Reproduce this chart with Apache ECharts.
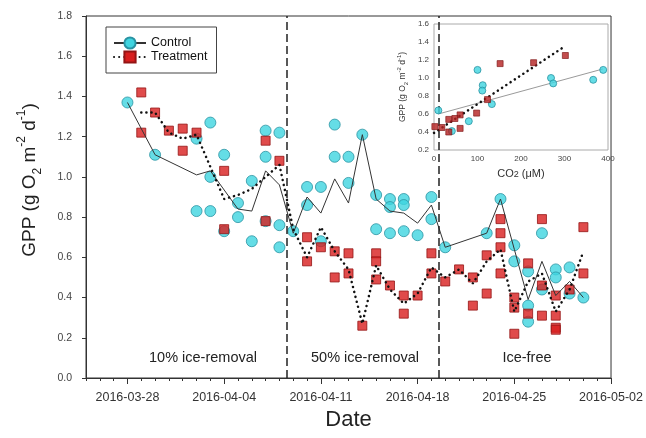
<!DOCTYPE html>
<html><head><meta charset="utf-8">
<script src="https://cdn.jsdelivr.net/npm/echarts@6/dist/echarts.min.js"></script>
<style>html,body{margin:0;padding:0;background:#fff}#c{width:646px;height:438px}</style>
</head><body><div id="c"></div>
<script>
// ---------- data ----------
const originDate = '2016-03-25';
const endDate = '2016-05-02';
const xTickDates = ['2016-03-28','2016-04-04','2016-04-11','2016-04-18','2016-04-25','2016-05-02'];
const phaseBoundaries = ['2016-04-08T12:00Z','2016-04-19T12:00Z'];
const phaseLabels = ['10% ice-removal','50% ice-removal','Ice-free'];
const yRange = [0, 1.8, 0.2];

const controlPoints = [
 ['2016-03-28',1.37],['2016-03-30',1.11],['2016-04-02',1.19],['2016-04-02',0.83],
 ['2016-04-03',1.27],['2016-04-03',1.00],['2016-04-03',0.83],['2016-04-04',1.11],['2016-04-04',0.73],
 ['2016-04-05',0.87],['2016-04-05',0.80],['2016-04-06',0.98],['2016-04-06',0.68],
 ['2016-04-07',1.23],['2016-04-07',1.10],['2016-04-07',0.78],['2016-04-08',1.22],['2016-04-08',0.76],['2016-04-08',0.65],
 ['2016-04-09',0.73],['2016-04-10',0.95],['2016-04-10',0.86],['2016-04-11',0.95],['2016-04-11',0.68],
 ['2016-04-12',1.26],['2016-04-12',1.10],['2016-04-13',1.10],['2016-04-13',0.97],['2016-04-14',1.21],
 ['2016-04-15',0.91],['2016-04-15',0.74],['2016-04-16',0.89],['2016-04-16',0.85],['2016-04-16',0.72],
 ['2016-04-17',0.89],['2016-04-17',0.86],['2016-04-17',0.73],['2016-04-18',0.71],['2016-04-19',0.90],['2016-04-19',0.79],
 ['2016-04-20',0.65],['2016-04-23',0.72],['2016-04-24',0.89],['2016-04-25',0.66],['2016-04-25',0.58],
 ['2016-04-26',0.53],['2016-04-26',0.36],['2016-04-26',0.28],['2016-04-27',0.72],['2016-04-27',0.44],
 ['2016-04-28',0.54],['2016-04-28',0.50],['2016-04-29',0.55],['2016-04-29',0.42],['2016-04-30',0.40]
];
const treatmentPoints = [
 ['2016-03-29',1.42],['2016-03-29',1.22],['2016-03-30',1.32],['2016-03-31',1.23],['2016-04-01',1.24],['2016-04-01',1.13],
 ['2016-04-02',1.22],['2016-04-04',1.03],['2016-04-04',0.74],['2016-04-07',1.18],['2016-04-07',0.78],['2016-04-08',1.08],
 ['2016-04-10',0.70],['2016-04-10',0.58],['2016-04-11',0.65],['2016-04-12',0.63],['2016-04-12',0.50],
 ['2016-04-13',0.62],['2016-04-13',0.52],['2016-04-14',0.26],['2016-04-15',0.62],['2016-04-15',0.58],['2016-04-15',0.49],
 ['2016-04-16',0.46],['2016-04-17',0.41],['2016-04-17',0.32],['2016-04-18',0.41],['2016-04-19',0.62],['2016-04-19',0.52],
 ['2016-04-20',0.48],['2016-04-21',0.54],['2016-04-22',0.50],['2016-04-22',0.36],['2016-04-23',0.61],['2016-04-23',0.42],
 ['2016-04-24',0.79],['2016-04-24',0.72],['2016-04-24',0.65],['2016-04-24',0.52],['2016-04-25',0.40],['2016-04-25',0.35],['2016-04-25',0.22],
 ['2016-04-26',0.57],['2016-04-26',0.32],['2016-04-27',0.79],['2016-04-27',0.46],['2016-04-27',0.31],
 ['2016-04-28',0.41],['2016-04-28',0.31],['2016-04-28',0.25],['2016-04-28',0.24],['2016-04-29',0.44],['2016-04-30',0.75],['2016-04-30',0.52]
];
const controlMeans = [
 ['2016-03-28',1.37],['2016-03-30',1.11],['2016-04-02',1.01],['2016-04-03',1.03],['2016-04-05',0.84],['2016-04-06',0.83],
 ['2016-04-07',1.03],['2016-04-08',0.96],['2016-04-09',0.72],['2016-04-10',0.90],['2016-04-11',0.82],['2016-04-12',0.99],
 ['2016-04-13',0.87],['2016-04-14',1.21],['2016-04-15',0.89],['2016-04-16',0.83],['2016-04-17',0.82],['2016-04-18',0.77],
 ['2016-04-19',0.86],['2016-04-20',0.65],['2016-04-23',0.72],['2016-04-24',0.89],['2016-04-25',0.64],['2016-04-26',0.39],
 ['2016-04-27',0.58],['2016-04-28',0.41],['2016-04-29',0.48],['2016-04-30',0.40]
];
const treatmentMeans = [
 ['2016-03-29',1.32],['2016-03-30',1.32],['2016-03-31',1.22],['2016-04-01',1.19],['2016-04-02',1.21],['2016-04-04',0.89],
 ['2016-04-05',0.91],['2016-04-06',0.94],['2016-04-07',1.00],['2016-04-08',1.06],['2016-04-09',0.74],['2016-04-10',0.60],
 ['2016-04-11',0.75],['2016-04-12',0.63],['2016-04-13',0.54],['2016-04-14',0.27],['2016-04-15',0.56],['2016-04-16',0.44],
 ['2016-04-17',0.37],['2016-04-18',0.42],['2016-04-19',0.55],['2016-04-20',0.50],['2016-04-21',0.54],['2016-04-22',0.47],
 ['2016-04-23',0.58],['2016-04-24',0.64],['2016-04-25',0.33],['2016-04-26',0.48],['2016-04-27',0.52],['2016-04-28',0.33],
 ['2016-04-29',0.44],['2016-04-30',0.63]
];
// inset: GPP vs CO2
const insetControl = [[10,0.64],[100,1.09],[112,0.92],[111,0.86],[133,0.71],[80,0.52],[41,0.41],[269,1.00],[274,0.94],[366,0.98],[389,1.09]];
const insetTreatment = [[152,1.16],[229,1.17],[302,1.25],[123,0.76],[98,0.61],[60,0.59],[48,0.55],[34,0.54],[60,0.44],[34,0.40],[18,0.45],[2,0.46]];
const insetControlFit = [[10,0.60],[388,1.10]];
const insetTreatmentFit = [[0,0.39],[300,1.35]];
const insetXRange = [0, 400, 100];
const insetYRange = [0.2, 1.6, 0.2];

// ---------- helpers ----------
const DAY = 864e5;
const parseD = s => Date.parse(s.length === 10 ? s + 'T00:00Z' : s);
const day = s => (parseD(s) - parseD(originDate)) / DAY;
const fmtDay = v => new Date(parseD(originDate) + Math.round(v) * DAY).toISOString().slice(0, 10);
const toXY = arr => arr.map(p => [day(p[0]), p[1]]);
const FONT = 'Liberation Sans, Arial, sans-serif';

const cyanStyle = {color: '#3fd4e0', borderColor: '#2a93a3', borderWidth: 1};
const redStyle = {color: '#d81e1e', borderColor: '#931414', borderWidth: 1};

const chart = echarts.init(document.getElementById('c'));
const tickDays = xTickDates.map(day);

chart.setOption({
  animation: false,
  textStyle: {fontFamily: FONT},
  grid: [
    {left: 86, top: 16, width: 531, height: 362, show: true, borderColor: '#333', borderWidth: 1, z: 0},
    {left: 434, top: 24, width: 174, height: 126, show: true, backgroundColor: '#fff', borderColor: '#aaa', borderWidth: 1, z: 5}
  ],
  legend: {
    left: 106, top: 27, orient: 'vertical', padding: [9, 9, 9, 7], itemGap: 0,
    itemWidth: 32, itemHeight: 14, borderColor: '#444', borderWidth: 1,
    textStyle: {fontSize: 12.5, color: '#111', lineHeight: 14, fontFamily: FONT},
    data: ['Control', 'Treatment']
  },
  xAxis: [
    {type: 'value', gridIndex: 0, min: 0, max: day(endDate), interval: 1,
     axisLine: {lineStyle: {color: '#333'}}, axisTick: {length: 3, lineStyle: {color: '#333'}},
     axisLabel: {show: false}, splitLine: {show: false}},
    {type: 'value', gridIndex: 0, position: 'bottom', min: 0, max: day(endDate),
     axisLine: {show: false},
     axisTick: {show: true, length: 6, customValues: tickDays, lineStyle: {color: '#333'}},
     axisLabel: {customValues: tickDays, formatter: fmtDay, fontSize: 12.5, color: '#333', margin: 13},
     splitLine: {show: false},
     name: 'Date', nameLocation: 'middle', nameGap: 31, nameTextStyle: {fontSize: 22, color: '#222'}},
    {type: 'value', gridIndex: 1, min: insetXRange[0], max: insetXRange[1], interval: insetXRange[2], z: 6,
     axisLine: {show: false}, axisTick: {show: false}, splitLine: {show: false},
     axisLabel: {fontSize: 8, color: '#444', margin: 5},
     name: 'CO{s|2} (μM)', nameLocation: 'middle', nameGap: 18,
     nameTextStyle: {fontSize: 11, color: '#333', rich: {s: {fontSize: 9, color: '#333', verticalAlign: 'bottom'}}}}
  ],
  yAxis: [
    {type: 'value', gridIndex: 0, min: yRange[0], max: yRange[1], interval: yRange[2],
     axisLine: {show: true, lineStyle: {color: '#333'}}, axisTick: {show: true, length: 4, lineStyle: {color: '#333'}},
     axisLabel: {formatter: v => v.toFixed(1), fontSize: 10.5, color: '#444', margin: 14}, splitLine: {show: false}},
    {type: 'value', gridIndex: 1, min: insetYRange[0], max: insetYRange[1], interval: insetYRange[2], z: 6,
     axisLine: {show: false}, axisTick: {show: false}, splitLine: {show: false},
     axisLabel: {formatter: v => v.toFixed(1), fontSize: 8, color: '#444', margin: 5}}
  ],
  graphic: [
    {type: 'text', x: 30, y: 180, rotation: Math.PI / 2, z: 10,
     style: {text: 'GPP (g O{sub|2} m{sup|-2} d{sup|-1})', fontSize: 19, fontFamily: FONT, fill: '#222',
       align: 'center', verticalAlign: 'middle', lineHeight: 28,
       rich: {sub: {fontSize: 12, verticalAlign: 'bottom', fill: '#222', fontFamily: FONT},
              sup: {fontSize: 12, verticalAlign: 'top', fill: '#222', fontFamily: FONT}}}},
    {type: 'text', x: 403, y: 87, rotation: Math.PI / 2, z: 10,
     style: {text: 'GPP (g O{sub|2} m{sup|-2} d{sup|-1})', fontSize: 8.5, fontFamily: FONT, fill: '#333',
       align: 'center', verticalAlign: 'middle', lineHeight: 13,
       rich: {sub: {fontSize: 6, verticalAlign: 'bottom', fill: '#333', fontFamily: FONT},
              sup: {fontSize: 6, verticalAlign: 'top', fill: '#333', fontFamily: FONT}}}},
    {type: 'text', x: 203, y: 358, style: {text: phaseLabels[0], fontSize: 14.5, fontFamily: FONT, fill: '#222', align: 'center', verticalAlign: 'middle'}},
    {type: 'text', x: 365, y: 358, style: {text: phaseLabels[1], fontSize: 14.5, fontFamily: FONT, fill: '#222', align: 'center', verticalAlign: 'middle'}},
    {type: 'text', x: 527, y: 358, style: {text: phaseLabels[2], fontSize: 14.5, fontFamily: FONT, fill: '#222', align: 'center', verticalAlign: 'middle'}}
  ],
  series: [
    {name: 'Control', type: 'line', xAxisIndex: 0, yAxisIndex: 0, z: 3, data: toXY(controlMeans),
     symbol: 'circle', symbolSize: 11, showSymbol: false, itemStyle: cyanStyle,
     lineStyle: {color: '#333', width: 1},
     markLine: {silent: true, symbol: ['none', 'none'], label: {show: false},
       lineStyle: {color: '#222', width: 1.5, type: [8, 4]},
       data: phaseBoundaries.map(s => ({xAxis: day(s)}))}},
    {name: 'Treatment', type: 'line', xAxisIndex: 0, yAxisIndex: 0, z: 3, data: toXY(treatmentMeans),
     symbol: 'rect', symbolSize: 9, showSymbol: false, itemStyle: redStyle,
     lineStyle: {color: '#111', width: 2.5, type: [0.1, 5], cap: 'round'}},
    {name: 'Control', type: 'scatter', xAxisIndex: 0, yAxisIndex: 0, z: 2, data: toXY(controlPoints),
     symbol: 'circle', symbolSize: 11, itemStyle: cyanStyle},
    {name: 'Treatment', type: 'scatter', xAxisIndex: 0, yAxisIndex: 0, z: 2, data: toXY(treatmentPoints),
     symbol: 'rect', symbolSize: 9, itemStyle: redStyle},
    // inset
    {type: 'line', xAxisIndex: 2, yAxisIndex: 1, z: 6, data: insetControlFit, symbol: 'none',
     lineStyle: {color: '#9a9a9a', width: 1}},
    {type: 'line', xAxisIndex: 2, yAxisIndex: 1, z: 6, data: insetTreatmentFit, symbol: 'none',
     lineStyle: {color: '#111', width: 2.5, type: [0.1, 5], cap: 'round'}},
    {type: 'scatter', xAxisIndex: 2, yAxisIndex: 1, z: 7, data: insetControl, symbol: 'circle', symbolSize: 7,
     itemStyle: cyanStyle},
    {type: 'scatter', xAxisIndex: 2, yAxisIndex: 1, z: 7, data: insetTreatment, symbol: 'rect', symbolSize: 6,
     itemStyle: {color: '#b42121', borderColor: '#7a1212', borderWidth: 0.8}}
  ]
});
</script></body></html>
